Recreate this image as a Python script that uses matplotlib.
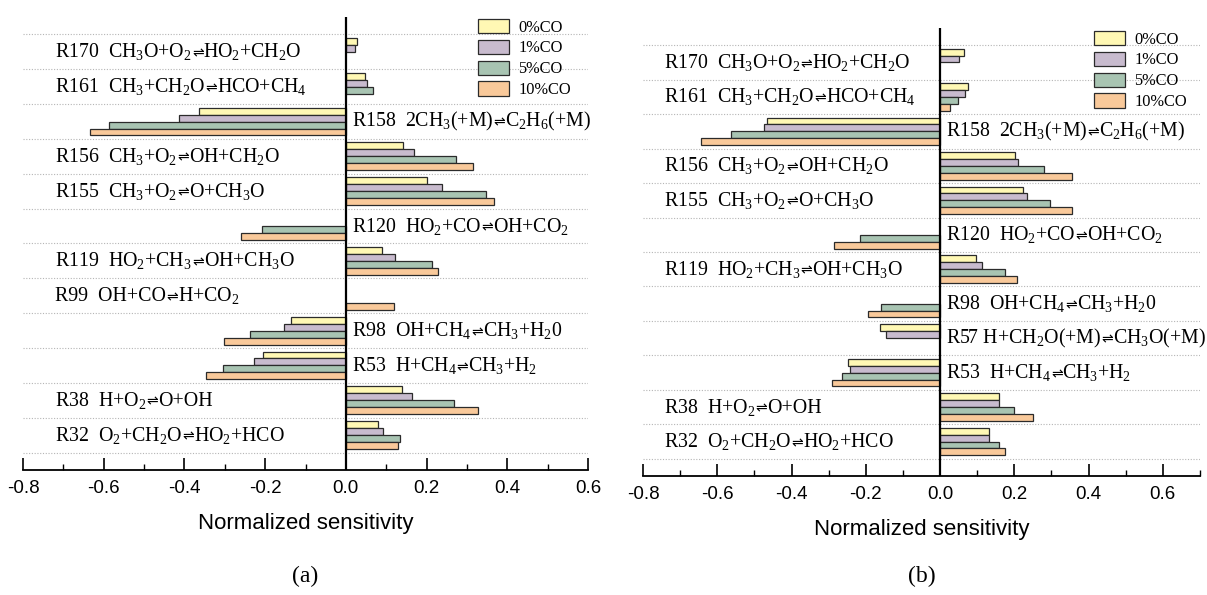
import matplotlib
matplotlib.use("Agg")
import matplotlib.pyplot as plt
from matplotlib.patches import Patch
from matplotlib.ticker import MultipleLocator
from matplotlib.offsetbox import TextArea, HPacker, AnnotationBbox
import numpy as np

plt.rcParams['mathtext.fontset'] = 'custom'
plt.rcParams['mathtext.rm'] = 'Liberation Serif'
plt.rcParams['mathtext.it'] = 'Liberation Serif:italic'
plt.rcParams['mathtext.fallback'] = 'stix'

series = ['0%CO', '1%CO', '5%CO', '10%CO']
colors = ['#FFF8B4', '#C8BBCE', '#A8C4B2', '#F9C99A']

ARROW = '\u21cc'

# Panel (a): listed top to bottom
labels_a = [
    r'R170  CH$_3$O+O$_2$⇌HO$_2$+CH$_2$O',
    r'R161  CH$_3$+CH$_2$O⇌HCO+CH$_4$',
    r'R158  2CH$_3$(+M)⇌C$_2$H$_6$(+M)',
    r'R156  CH$_3$+O$_2$⇌OH+CH$_2$O',
    r'R155  CH$_3$+O$_2$⇌O+CH$_3$O',
    r'R120  HO$_2$+CO⇌OH+CO$_2$',
    r'R119  HO$_2$+CH$_3$⇌OH+CH$_3$O',
    r'R99  OH+CO⇌H+CO$_2$',
    r'R98  OH+CH$_4$⇌CH$_3$+H$_2$0',
    r'R53  H+CH$_4$⇌CH$_3$+H$_2$',
    r'R38  H+O$_2$⇌O+OH',
    r'R32  O$_2$+CH$_2$O⇌HO$_2$+HCO',
]
co0_a = [0.027, 0.048, -0.364, 0.141, 0.202, 0.0, 0.090, 0.0, -0.135, -0.206, 0.138, 0.080]
co1_a = [0.023, 0.052, -0.414, 0.170, 0.238, 0.0, 0.121, 0.0, -0.154, -0.227, 0.164, 0.093]
co5_a = [0.0, 0.067, -0.587, 0.274, 0.347, -0.208, 0.213, 0.0, -0.238, -0.305, 0.267, 0.134]
co10_a = [0.0, 0.0, -0.634, 0.314, 0.366, -0.261, 0.229, 0.119, -0.303, -0.346, 0.327, 0.129]
label_right_a = [False, False, True, False, False, True, False, False, True, True, False, False]

# Panel (b): listed top to bottom
labels_b = [
    r'R170  CH$_3$O+O$_2$⇌HO$_2$+CH$_2$O',
    r'R161  CH$_3$+CH$_2$O⇌HCO+CH$_4$',
    r'R158  2CH$_3$(+M)⇌C$_2$H$_6$(+M)',
    r'R156  CH$_3$+O$_2$⇌OH+CH$_2$O',
    r'R155  CH$_3$+O$_2$⇌O+CH$_3$O',
    r'R120  HO$_2$+CO⇌OH+CO$_2$',
    r'R119  HO$_2$+CH$_3$⇌OH+CH$_3$O',
    r'R98  OH+CH$_4$⇌CH$_3$+H$_2$0',
    r'R57 H+CH$_2$O(+M)⇌CH$_3$O(+M)',
    r'R53  H+CH$_4$⇌CH$_3$+H$_2$',
    r'R38  H+O$_2$⇌O+OH',
    r'R32  O$_2$+CH$_2$O⇌HO$_2$+HCO',
]
co0_b = [0.065, 0.075, -0.466, 0.202, 0.224, 0.0, 0.096, 0.0, -0.163, -0.249, 0.158, 0.132]
co1_b = [0.051, 0.068, -0.473, 0.211, 0.233, 0.0, 0.113, 0.0, -0.146, -0.243, 0.160, 0.132]
co5_b = [0.0, 0.049, -0.563, 0.279, 0.295, -0.216, 0.175, -0.160, 0.0, -0.265, 0.198, 0.158]
co10_b = [0.0, 0.027, -0.644, 0.356, 0.356, -0.286, 0.208, -0.193, 0.0, -0.292, 0.249, 0.175]
label_right_b = [False, False, True, False, False, True, False, True, True, True, False, False]

fig = plt.figure(figsize=(12.07, 5.95), dpi=100)
ax_a = fig.add_axes([23/1207, 1-470/595, (588-23)/1207, (470-17)/595])
ax_b = fig.add_axes([643/1207, 1-476/595, (1200-643)/1207, (476-28)/595])

serif = 'Liberation Serif'
sans = 'Liberation Sans'
LFS = 14.3


def reaction_label(ax, x, y, text):
    left, right = text.split(ARROW)
    tp = dict(family=serif, size=LFS)
    parts = [TextArea(left, textprops=tp),
             TextArea(ARROW, textprops=dict(family='DejaVu Sans', size=LFS * 0.7)),
             TextArea(right, textprops=tp)]
    pack = HPacker(children=parts, align='baseline', pad=0, sep=0)
    ab = AnnotationBbox(pack, (x, y), xycoords='data', box_alignment=(0, 0.5),
                        frameon=False, pad=0, zorder=4)
    ax.add_artist(ab)


def draw(ax, labels, vals, right_flags, xlim, left_x, right_x, leg_anchor, panel):
    n = len(labels)
    pos = np.arange(n)[::-1]
    offsets = [0.3, 0.1, -0.1, -0.3]
    for v, c, off in zip(vals, colors, offsets):
        v = np.array(v)
        mask = v != 0
        ax.barh(pos[mask] + off, v[mask], height=0.2, color=c,
                edgecolor='#2b2b2b', linewidth=0.9, zorder=2)
    for y in np.arange(-0.5, n, 1.0):
        ax.axhline(y, color='#b5b5b5', linestyle=(0, (1, 1.5)), linewidth=0.8, zorder=1)
    ax.axvline(0, color='black', linewidth=1.6, zorder=3)
    for lab, p, r in zip(labels, pos, right_flags):
        reaction_label(ax, right_x if r else left_x, p, lab)
    ax.set_xlim(*xlim)
    ax.set_ylim(-1.0, 12.0)
    for side in ['left', 'right', 'top']:
        ax.spines[side].set_visible(False)
    ax.spines['bottom'].set_linewidth(1.3)
    ax.set_yticks([])
    ax.xaxis.set_major_locator(MultipleLocator(0.2))
    ax.xaxis.set_minor_locator(MultipleLocator(0.1))
    ax.tick_params(axis='x', which='major', direction='in', length=9, width=1.2, pad=7)
    ax.tick_params(axis='x', which='minor', direction='in', length=4, width=1.0)
    ax.set_xticklabels([f'{t:.1f}' for t in ax.get_xticks()], family=sans, fontsize=13.5)
    ax.set_xlabel('Normalized sensitivity', family=sans, fontsize=16, labelpad=12)
    handles = [Patch(facecolor=c, edgecolor='#2b2b2b', linewidth=0.9) for c in colors]
    fig.legend(handles, series, loc='upper left', bbox_to_anchor=leg_anchor,
               frameon=False, prop={'family': serif, 'size': 11.8},
               handlelength=1.9, handleheight=0.95, labelspacing=0.25,
               handletextpad=0.55, borderpad=0, borderaxespad=0)
    bb = ax.get_position()
    fig.text((bb.x0 + bb.x1) / 2, 1 - 576/595, panel, ha='center', va='center',
             family=serif, fontsize=17)


draw(ax_a, labels_a, [co0_a, co1_a, co5_a, co10_a], label_right_a, (-0.8, 0.6),
     -0.72, 0.014, (478/1207, 1-19/595), '(a)')
draw(ax_b, labels_b, [co0_b, co1_b, co5_b, co10_b], label_right_b, (-0.8, 0.7),
     -0.744, 0.015, (1094/1207, 1-31/595), '(b)')

fig.savefig('out.png', dpi=100)
